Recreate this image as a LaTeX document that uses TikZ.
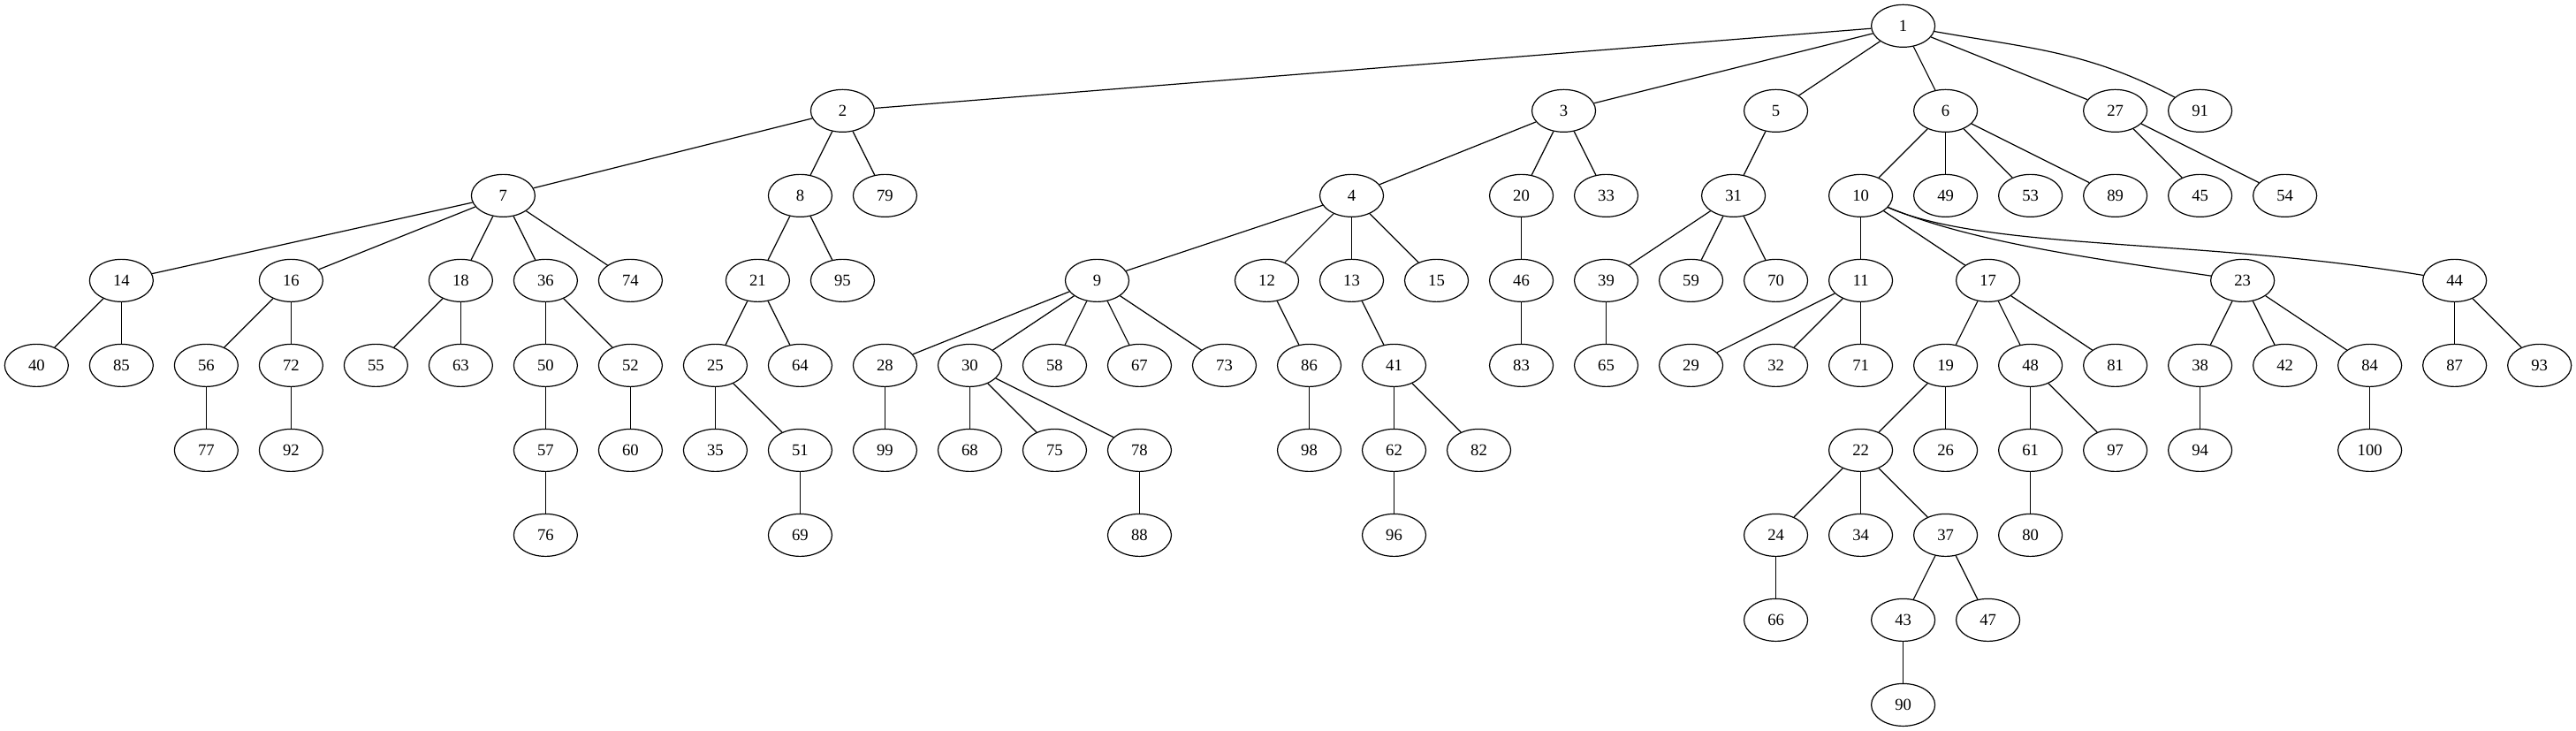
\documentclass[tikz,border=0pt]{standalone}
\usepackage{fontspec}
\setmainfont{Liberation Serif}
\usetikzlibrary{shapes.geometric}
\begin{document}
\begin{tikzpicture}[x=72pt,y=72pt,
  vx/.style={draw,ellipse,minimum width=54pt,minimum height=36pt,inner sep=0pt,line width=0.9pt,font=\fontsize{14}{16}\selectfont},
  ed/.style={line width=0.9pt}]
\useasboundingbox (-0.430556,0.305556) rectangle (29.930556,-8.305556);
\foreach \n/\s/\r in {
 1/22/0,
 2/9.5/1, 3/18/1, 5/20.5/1, 6/22.5/1, 27/24.5/1, 91/25.5/1,
 7/5.5/2, 8/9/2, 79/10/2, 4/15.5/2, 20/17.5/2, 33/18.5/2, 31/20/2, 10/21.5/2, 49/22.5/2, 53/23.5/2, 89/24.5/2, 45/25.5/2, 54/26.5/2,
 14/1/3, 16/3/3, 18/5/3, 36/6/3, 74/7/3, 21/8.5/3, 95/9.5/3, 9/12.5/3, 12/14.5/3, 13/15.5/3, 15/16.5/3, 46/17.5/3, 39/18.5/3, 59/19.5/3, 70/20.5/3, 11/21.5/3, 17/23/3, 23/26/3, 44/28.5/3,
 40/0/4, 85/1/4, 56/2/4, 72/3/4, 55/4/4, 63/5/4, 50/6/4, 52/7/4, 25/8/4, 64/9/4, 28/10/4, 30/11/4, 58/12/4, 67/13/4, 73/14/4, 86/15/4, 41/16/4, 83/17.5/4, 65/18.5/4, 29/19.5/4, 32/20.5/4, 71/21.5/4, 19/22.5/4, 48/23.5/4, 81/24.5/4, 38/25.5/4, 42/26.5/4, 84/27.5/4, 87/28.5/4, 93/29.5/4,
 77/2/5, 92/3/5, 57/6/5, 60/7/5, 35/8/5, 51/9/5, 99/10/5, 68/11/5, 75/12/5, 78/13/5, 98/15/5, 62/16/5, 82/17/5, 22/21.5/5, 26/22.5/5, 61/23.5/5, 97/24.5/5, 94/25.5/5, 100/27.5/5,
 76/6/6, 69/9/6, 88/13/6, 96/16/6, 24/20.5/6, 34/21.5/6, 37/22.5/6, 80/23.5/6,
 66/20.5/7, 43/22/7, 47/23/7,
 90/22/8}
  \node[vx] (n\n) at (\s,-\r) {\n};
\foreach \a/\b in {
 1/2, 1/3, 1/5, 1/6, 1/27,
 2/7, 2/8, 2/79, 3/4, 3/20, 3/33, 5/31, 6/10, 6/49, 6/53, 6/89, 27/45, 27/54,
 7/14, 7/16, 7/18, 7/36, 7/74, 8/21, 8/95, 4/9, 4/12, 4/13, 4/15, 20/46, 31/39, 31/59, 31/70, 10/11, 10/17,
 14/40, 14/85, 16/56, 16/72, 18/55, 18/63, 36/50, 36/52, 21/25, 21/64, 9/28, 9/30, 9/58, 9/67, 9/73, 12/86, 13/41, 46/83, 39/65, 11/29, 11/32, 11/71, 17/19, 17/48, 17/81, 23/38, 23/42, 23/84, 44/87, 44/93,
 56/77, 72/92, 50/57, 52/60, 25/35, 25/51, 28/99, 30/68, 30/75, 30/78, 86/98, 41/62, 41/82, 19/22, 19/26, 48/61, 48/97, 38/94, 84/100,
 57/76, 51/69, 78/88, 62/96, 22/24, 22/34, 22/37, 61/80,
 24/66, 37/43, 37/47, 43/90}
  \draw[ed] (n\a) -- (n\b);
\draw[ed] (n1) to[out=-10,in=152] (n91);
\draw[ed] (n10) .. controls (22.8,-2.55) and (24.3,-2.75) .. (n23);
\draw[ed] (n10) .. controls (23.0,-2.65) and (25.5,-2.5) .. (n44);
\end{tikzpicture}
\end{document}
